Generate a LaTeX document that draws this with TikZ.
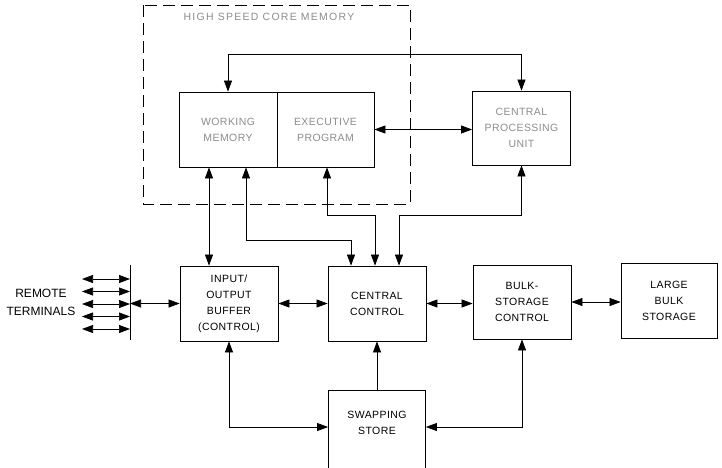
\documentclass[tikz,border=0pt]{standalone}
\usepackage{fontspec}
\setmainfont{Liberation Sans}
\usetikzlibrary{arrows.meta,positioning,calc}
\tikzset{
  >={Triangle[length=11pt,width=8pt]},
  blk/.style={rectangle,draw,line width=0.8pt,inner sep=0pt,minimum width=98pt,minimum height=75pt},
  lbl/.style={align=center,font=\fontsize{10.5}{16}\selectfont\addfontfeature{LetterSpace=4}},
  faint/.style={text=black!45},
  ln/.style={line width=0.7pt},
  core/.style={dashed,dash pattern=on 12pt off 6pt,line width=0.8pt}
}
\begin{document}
\begin{tikzpicture}[x=1pt,y=-1pt]
    \useasboundingbox (0,0) rectangle (722,467);
    \clip (0,0) rectangle (722,467);

    % High speed core memory
    \draw[core] (143,5) rectangle (410,204);
    \node[lbl,faint,font=\fontsize{10.5}{16}\selectfont\addfontfeature{LetterSpace=12}] (hscm) at (269,17) {HIGH SPEED CORE MEMORY};
    \node[blk,lbl,faint] (wm) at (228,129.5) {WORKING\\MEMORY};
    \node[blk,lbl,faint,minimum width=97pt] (ep) at (325.5,129.5) {EXECUTIVE\\PROGRAM};
    \node[blk,lbl,faint,minimum height=74pt] (cpu) at (521.5,128) {CENTRAL\\PROCESSING\\UNIT};

    % Lower row
    \node[blk,lbl] (io) at (229,303.5) {INPUT/\\OUTPUT\\BUFFER\\(CONTROL)};
    \node[blk,lbl] (cc) at (377,303.5) {CENTRAL\\CONTROL};
    \node[blk,lbl,minimum height=74pt] (bsc) at (522,302) {BULK-\\STORAGE\\CONTROL};
    \node[blk,lbl,minimum width=96pt] (lbs) at (669,300.5) {LARGE\\BULK\\STORAGE};
    \node[blk,minimum width=97pt,minimum height=84pt] (swap) at (377,432) {};
    \node[lbl] (swaptxt) at (377,423) {SWAPPING\\STORE};

    % Remote terminals
    \node[lbl,font=\fontsize{12}{18}\selectfont] (rt) at (41,302) {REMOTE\\TERMINALS};
    \coordinate (bar) at (130,265);
    \coordinate (barend) at (130,340);
    \draw[ln] (bar) -- (barend);
    \foreach \i/\y in {1/279,2/291.5,3/304,4/316.5,5/329}{
      \coordinate (t\i) at (82,\y);
      \draw[ln,<->] (t\i) -- (t\i -| bar);
    }
    \draw[ln,<->] (io.west -| bar) -- (io.west);

    % Memory connections
    \draw[ln,<->] (wm.north) -- ++(0,-37) -| (cpu.north);
    \draw[ln,<->] (ep.east) -- (ep.east -| cpu.west);
    \draw[ln,<->] ([xshift=-20pt]io.north |- wm.south) -- ([xshift=-20pt]io.north);
    \draw[ln,<->] ([xshift=18pt]wm.south) -- ++(0,73) -| ([xshift=-26pt]cc.north);
    \draw[ln,<->] ([xshift=1.5pt]ep.south) -- ++(0,48) -| ([xshift=-2pt]cc.north);
    \draw[ln,<->] (cpu.south) -- ++(0,50) -| ([xshift=22pt]cc.north);

    % Control connections
    \draw[ln,<->] (io.east) -- (io.east -| cc.west);
    \draw[ln,<->] (cc.east) -- (cc.east -| bsc.west);
    \draw[ln,<->] (bsc.east) -- (bsc.east -| lbs.west);
    \draw[ln,->] (swap.north) -- (cc.south);
    \draw[ln,<->] (io.south) |- ([yshift=5pt]swap.west);
    \draw[ln,<->] (bsc.south) |- ([yshift=5pt]swap.east);
\end{tikzpicture}
\end{document}
